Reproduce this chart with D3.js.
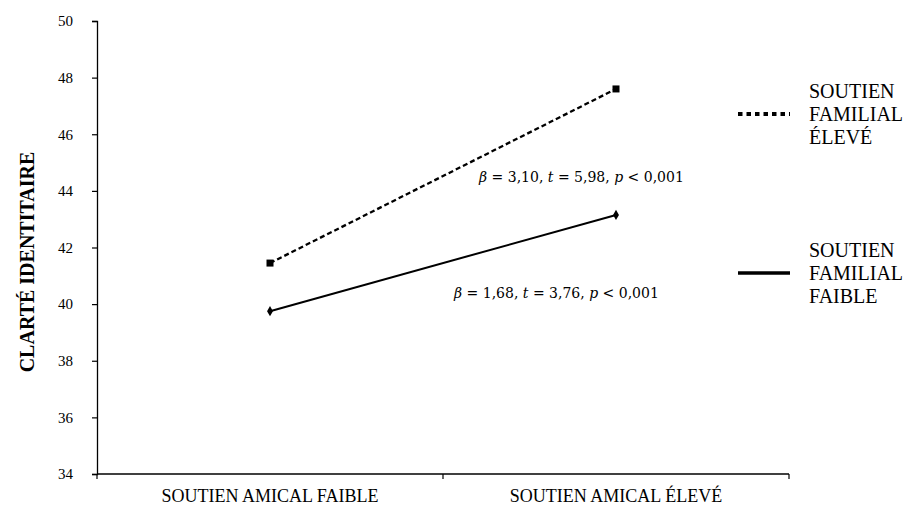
<!DOCTYPE html>
<html>
<head>
<meta charset="utf-8">
<script src="https://cdn.jsdelivr.net/npm/d3@7"></script>
<style>
  body { margin: 0; background: #fff; }
  text { fill: #000; }
</style>
</head>
<body>
<div id="chart"></div>
<script>
var categories = ['SOUTIEN AMICAL FAIBLE', 'SOUTIEN AMICAL ÉLEVÉ'];
var familialEleve = [41.45, 47.6];
var familialFaible = [39.75, 43.15];
var yTicks = [34, 36, 38, 40, 42, 44, 46, 48, 50];
var legendEleve = ['SOUTIEN', 'FAMILIAL', 'ÉLEVÉ'];
var legendFaible = ['SOUTIEN', 'FAMILIAL', 'FAIBLE'];

var width = 910;
var height = 506;
var serif = 'Liberation Serif';

var svg = d3.select('#chart')
  .append('svg')
  .attr('width', width)
  .attr('height', height);

var x = d3.scaleBand()
  .domain(categories)
  .range([97, 789])
  .padding(0);

var y = d3.scaleLinear()
  .domain([34, 50])
  .range([474, 21]);

// y axis
var yAxis = svg.append('g')
  .attr('transform', 'translate(97,0)')
  .call(d3.axisLeft(y).tickValues(yTicks).tickSize(5).tickPadding(19));
yAxis.attr('font-family', serif).attr('font-size', 15);
yAxis.select('.domain').attr('stroke', '#000').attr('stroke-width', 1.3);
yAxis.selectAll('.tick line').attr('stroke', '#000').attr('stroke-width', 1.2);

// x axis
var xAxis = svg.append('g')
  .attr('transform', 'translate(0,474)')
  .call(d3.axisBottom(x).tickSize(0).tickPadding(0));
xAxis.attr('font-family', serif).attr('font-size', 18);
xAxis.select('.domain').remove();
xAxis.selectAll('.tick text')
  .attr('y', 28)
  .attr('dy', 0);
svg.append('line')
  .attr('x1', x.range()[0]).attr('x2', x.range()[1])
  .attr('y1', 474).attr('y2', 474)
  .attr('stroke', '#000').attr('stroke-width', 1.3);
svg.selectAll('.xbound')
  .data(d3.range(categories.length + 1))
  .enter()
  .append('line')
  .attr('x1', function(i) { return x.range()[0] + i * x.step(); })
  .attr('x2', function(i) { return x.range()[0] + i * x.step(); })
  .attr('y1', 474).attr('y2', 479)
  .attr('stroke', '#000').attr('stroke-width', 1.2);

// y title
svg.append('text')
  .attr('transform', 'translate(34,262) rotate(-90)')
  .attr('text-anchor', 'middle')
  .attr('font-family', serif)
  .attr('font-weight', 'bold')
  .attr('font-size', 20)
  .text('CLARTÉ IDENTITAIRE');

var cx = function(d, i) { return x(categories[i]) + x.bandwidth() / 2; };
var line = d3.line()
  .x(cx)
  .y(function(d) { return y(d); });

// high family support: dashed with squares
svg.append('path')
  .datum(familialEleve)
  .attr('d', line)
  .attr('fill', 'none')
  .attr('stroke', '#000')
  .attr('stroke-width', 2.3)
  .attr('stroke-dasharray', '5,3');
svg.selectAll('.sq')
  .data(familialEleve)
  .enter()
  .append('rect')
  .attr('x', function(d, i) { return cx(d, i) - 3.5; })
  .attr('y', function(d) { return y(d) - 3.5; })
  .attr('width', 7).attr('height', 7)
  .attr('fill', '#000');

// low family support: solid with diamonds
svg.append('path')
  .datum(familialFaible)
  .attr('d', line)
  .attr('fill', 'none')
  .attr('stroke', '#000')
  .attr('stroke-width', 2);
svg.selectAll('.dm')
  .data(familialFaible)
  .enter()
  .append('path')
  .attr('d', d3.symbol().type(d3.symbolDiamond).size(30))
  .attr('transform', function(d, i) { return 'translate(' + cx(d, i) + ',' + y(d) + ')'; })
  .attr('fill', '#000');

// annotations
function annot(xPos, yPos, parts) {
  var t = svg.append('text')
    .attr('x', xPos).attr('y', yPos)
    .attr('font-family', 'DejaVu Serif')
    .attr('font-size', 14);
  parts.forEach(function(p) {
    t.append('tspan')
      .attr('font-style', p[1] ? 'italic' : 'normal')
      .text(p[0]);
  });
}
annot(479, 182, [['β', true], [' = 3,10, ', false], ['t', true], [' = 5,98, ', false], ['p', true], [' < 0,001', false]]);
annot(454, 298, [['β', true], [' = 1,68, ', false], ['t', true], [' = 3,76, ', false], ['p', true], [' < 0,001', false]]);

// legend
function legend(yPos, lines, dashed) {
  svg.append('line')
    .attr('x1', 738).attr('x2', 790)
    .attr('y1', yPos).attr('y2', yPos)
    .attr('stroke', '#000')
    .attr('stroke-width', dashed ? 4 : 3.5)
    .attr('stroke-dasharray', dashed ? '4.5,4' : null);
  var t = svg.append('text')
    .attr('font-family', serif)
    .attr('font-size', 20);
  lines.forEach(function(s, i) {
    t.append('tspan')
      .attr('x', 809)
      .attr('y', yPos + (i - 1) * 23 + 7)
      .text(s);
  });
}
legend(114, legendEleve, true);
legend(273, legendFaible, false);
</script>
</body>
</html>
